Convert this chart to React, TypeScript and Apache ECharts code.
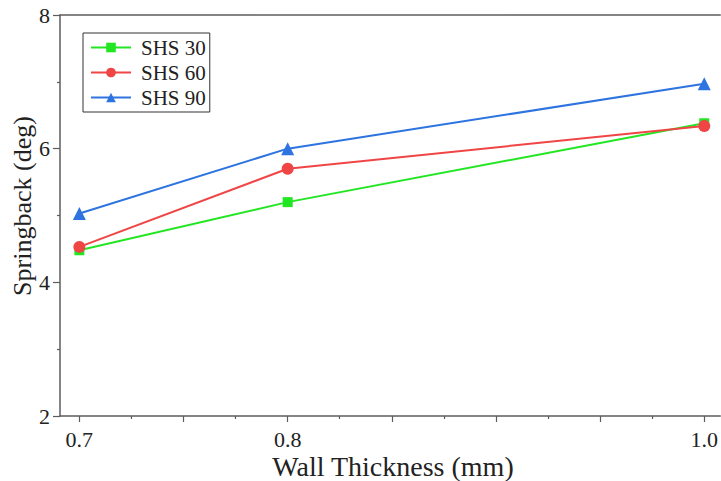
import React, { useEffect, useRef } from "react";
import * as echarts from "echarts";

const thickness = [0.7, 0.8, 1.0];
const shs30 = [4.48, 5.2, 6.38];
const shs60 = [4.53, 5.7, 6.34];
const shs90 = [5.03, 6.0, 6.97];
const xLabelValues = [0.7, 0.8, 1.0];
const xMajorTicks = [0.7, 0.75, 0.8, 0.85, 0.9, 0.95, 1.0];
const xMinorTicks = [0.725, 0.775, 0.825, 0.875, 0.925, 0.975];

const FONT = "Liberation Serif";
const AXIS = "#5c5c5c";

export default function App() {
  const ref = useRef<HTMLDivElement>(null);
  useEffect(() => {
    if (!ref.current) return;
    const chart = echarts.init(ref.current, null, { renderer: "svg" });
    const xMin = 0.6907;
    const xMax = 1.0077;
    const mk = (vals: number[]) => thickness.map((t, i) => [t, vals[i]]);
    chart.setOption({
      animation: false,
      backgroundColor: "#fff",
      textStyle: { fontFamily: FONT },
      grid: { left: 60, right: 0, top: 15, bottom: 65, containLabel: false },
      legend: {
        orient: "vertical",
        left: 83,
        top: 33,
        padding: [4, 4, 4, 7],
        itemGap: 4,
        itemWidth: 40,
        itemHeight: 12,
        borderColor: "#333",
        borderWidth: 1,
        textStyle: { fontFamily: FONT, fontSize: 21, color: "#222", padding: [0, 0, 0, 5] },
        data: ["SHS 30", "SHS 60", "SHS 90"],
      },
      xAxis: [
        {
          type: "value",
          min: xMin,
          max: xMax,
          position: "bottom",
          splitLine: { show: false },
          axisLine: { show: true, lineStyle: { color: AXIS, width: 1.5 } },
          axisTick: { show: true, length: 6, customValues: xMajorTicks, lineStyle: { color: AXIS, width: 1.2 } },
          axisLabel: {
            customValues: xLabelValues,
            formatter: (v: number) => v.toFixed(1),
            fontFamily: FONT,
            fontSize: 22,
            color: "#222",
            margin: 12,
          },
        },
        {
          type: "value",
          min: xMin,
          max: xMax,
          position: "bottom",
          splitLine: { show: false },
          axisLine: { show: false },
          axisTick: { show: true, length: 3, customValues: xMinorTicks, lineStyle: { color: AXIS, width: 1.2 } },
          axisLabel: { show: false },
        },
        {
          type: "value",
          min: xMin,
          max: xMax,
          position: "top",
          splitLine: { show: false },
          axisLine: { show: true, lineStyle: { color: AXIS, width: 1.5 } },
          axisTick: { show: false },
          axisLabel: { show: false },
        },
      ],
      yAxis: {
        type: "value",
        min: 2,
        max: 8,
        interval: 2,
        splitLine: { show: false },
        axisLine: { show: true, lineStyle: { color: AXIS, width: 1.5 } },
        axisTick: { show: true, length: 7, lineStyle: { color: AXIS, width: 1.2 } },
        minorTick: { show: true, splitNumber: 2, length: 3, lineStyle: { color: AXIS, width: 1.2 } },
        axisLabel: { fontFamily: FONT, fontSize: 22, color: "#222", margin: 10 },
      },
      graphic: [
        {
          type: "text",
          x: 22,
          y: 206,
          rotation: Math.PI / 2,
          style: {
            text: "Springback (deg)",
            fontFamily: FONT,
            fontSize: 26,
            fill: "#222",
            align: "center",
            verticalAlign: "middle",
          },
        },
        {
          type: "text",
          x: 393,
          y: 466,
          style: {
            text: "Wall Thickness (mm)",
            fontFamily: FONT,
            fontSize: 28,
            fill: "#222",
            align: "center",
            verticalAlign: "middle",
          },
        },
      ],
      series: [
        {
          name: "SHS 30",
          type: "line",
          xAxisIndex: 0,
          data: mk(shs30),
          symbol: "rect",
          symbolSize: 10,
          color: "#22e622",
          lineStyle: { width: 2 },
        },
        {
          name: "SHS 60",
          type: "line",
          xAxisIndex: 0,
          data: mk(shs60),
          symbol: "circle",
          symbolSize: 12,
          color: "#f04545",
          lineStyle: { width: 2 },
        },
        {
          name: "SHS 90",
          type: "line",
          xAxisIndex: 0,
          data: mk(shs90),
          symbol: "triangle",
          symbolSize: 13,
          color: "#2e74e0",
          lineStyle: { width: 2 },
        },
      ],
    });
    return () => chart.dispose();
  }, []);
  return (
    <div
      ref={ref}
      style={{ position: "absolute", left: 0, top: 0, width: 721, height: 481 }}
    />
  );
}
